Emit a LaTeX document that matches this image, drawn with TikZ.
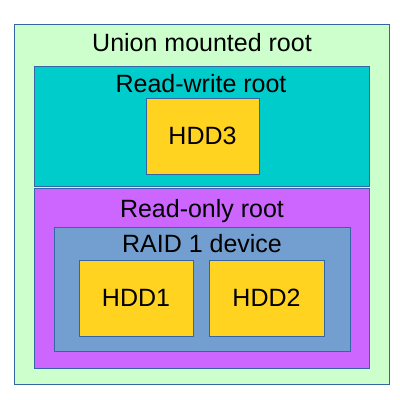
\documentclass[tikz,border=0pt]{standalone}
\usepackage{fontspec}
\setmainfont{Liberation Sans}
\usetikzlibrary{positioning}
\definecolor{edge}{HTML}{3465A4}
\definecolor{mint}{HTML}{CCFFCC}
\definecolor{teal}{HTML}{00CCCC}
\definecolor{violet}{HTML}{CC66FF}
\definecolor{raid}{HTML}{729FCF}
\definecolor{disk}{HTML}{FFD320}
\tikzset{
  box/.style={draw=edge, line width=0.8pt, inner sep=0pt},
  title/.style={font=\fontsize{25}{28}\selectfont, inner sep=0pt, anchor=north},
}
\begin{document}
\begin{tikzpicture}[x=1pt,y=-1pt]
  \useasboundingbox (0,0) rectangle (400,400);
  % outer union
  \draw[box, fill=mint] (14,24) rectangle (389,384);
  \node[title] (union) at (202,33) {Union mounted root};
  % read-write branch
  \draw[box, fill=teal] (34,66) rectangle (369,186);
  \node[title] (rw) at (201,74) {Read-write root};
  \draw[box, fill=disk] (146,98) rectangle (259,174);
  \node[title, anchor=center] (hdd3) at (202.5,136) {HDD3};
  % read-only branch
  \draw[box, fill=violet] (34,188) rectangle (369,368);
  \node[title] (ro) at (202,199) {Read-only root};
  \draw[box, fill=raid] (54,227) rectangle (350,351);
  \node[title] (raid) at (202,234) {RAID 1 device};
  \draw[box, fill=disk] (79,260) rectangle (193,336);
  \node[title, anchor=center] (hdd1) at (136,298) {HDD1};
  \draw[box, fill=disk] (209,260) rectangle (324,336);
  \node[title, anchor=center] (hdd2) at (266.5,298) {HDD2};
\end{tikzpicture}
\end{document}
